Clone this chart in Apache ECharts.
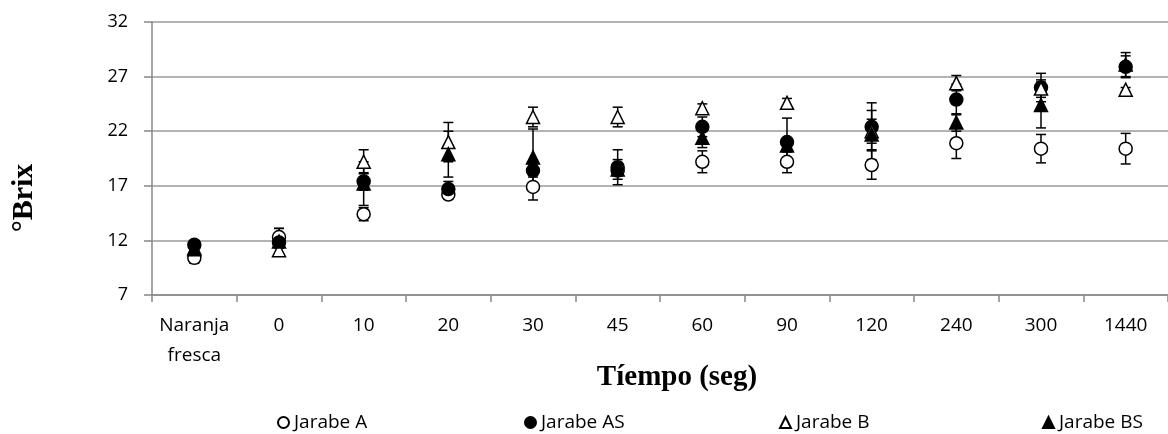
<!DOCTYPE html>
<html>
<head>
<meta charset="utf-8">
<script src="https://cdn.jsdelivr.net/npm/echarts@6/dist/echarts.min.js"></script>
<style>
  html, body { margin: 0; padding: 0; background: #fff; }
  #chart { width: 1168px; height: 434px; }
</style>
</head>
<body>
<div id="chart"></div>
<script>
// Tiempo de inmersión (categorías del eje X)
const categories = ['Naranja\nfresca', '0', '10', '20', '30', '45', '60', '90', '120', '240', '300', '1440'];
const yTicks = [7, 12, 17, 22, 27, 32];

// °Brix medio por jarabe
const jarabeA  = [10.4, 12.3, 14.4, 16.2, 16.9, 18.4, 19.2, 19.2, 18.9, 20.9, 20.4, 20.4];
const jarabeAS = [11.6, 11.8, 17.4, 16.7, 18.4, 18.7, 22.4, 21.0, 22.4, 24.9, 26.0, 27.9];
const jarabeB  = [11.2, 11.1, 19.2, 21.0, 23.3, 23.3, 24.1, 24.6, 22.0, 26.4, 25.9, 25.8];
const jarabeBS = [11.3, 11.9, 17.2, 19.9, 19.6, 18.5, 21.4, 20.7, 21.7, 22.8, 24.4, 28.1];

// Desviación estándar (barras de error)
const errA  = [0.5, 0.8, 0.6, 0.3, 1.2, 0.5, 1.0, 1.0, 1.3, 1.4, 1.3, 1.4];
const errAS = [0.4, 0.5, 0.8, 0.7, 0.6, 1.6, 0.9, 2.2, 1.5, 1.4, 1.3, 1.0];
const errB  = [0.3, 0.4, 1.1, 1.8, 0.9, 0.9, 0.4, 0.4, 2.6, 0.7, 0.8, 0.2];
const errBS = [0.3, 1.2, 2.0, 2.1, 2.6, 0.9, 0.9, 0.6, 1.4, 0.8, 2.1, 1.1];

const chart = echarts.init(document.getElementById('chart'), null, { renderer: 'canvas' });

// Barra vertical con topes horizontales en cada punto
function errorSeries(name, values, errs) {
  return {
    type: 'custom',
    name: name,
    z: 1,
    silent: true,
    data: values.map((v, i) => [i, v - errs[i], v + errs[i]]),
    renderItem: function (params, api) {
      const lo = api.coord([api.value(0), api.value(1)]);
      const hi = api.coord([api.value(0), api.value(2)]);
      const half = 5;
      const style = { stroke: '#000', lineWidth: 1.5 };
      return {
        type: 'group',
        children: [
          { type: 'line', shape: { x1: hi[0], y1: hi[1], x2: lo[0], y2: lo[1] }, style: style },
          { type: 'line', shape: { x1: hi[0] - half, y1: hi[1], x2: hi[0] + half, y2: hi[1] }, style: style },
          { type: 'line', shape: { x1: lo[0] - half, y1: lo[1], x2: lo[0] + half, y2: lo[1] }, style: style }
        ]
      };
    }
  };
}

function pointSeries(name, values, symbol, filled, size) {
  return {
    type: 'scatter',
    name: name,
    z: 2,
    symbol: symbol,
    symbolSize: size,
    data: values,
    emphasis: { disabled: true },
    itemStyle: {
      color: filled ? '#000' : '#fff',
      borderColor: '#000',
      borderWidth: 1.5,
      opacity: 1
    }
  };
}

const legendText = { fontFamily: 'Open Sans', fontSize: 19, color: '#000' };
function legendAt(name, left) {
  return {
    data: [name],
    left: left,
    top: 413,
    itemWidth: 11,
    itemHeight: 11,
    itemGap: 6,
    padding: 0,
    textStyle: legendText,
    selectedMode: false
  };
}

chart.setOption({
  animation: false,
  backgroundColor: '#fff',
  grid: { left: 152, right: 0, top: 22, bottom: 139 },
  legend: [
    legendAt('Jarabe A', 277),
    legendAt('Jarabe AS', 524),
    legendAt('Jarabe B', 779),
    legendAt('Jarabe BS', 1042)
  ],
  xAxis: {
    type: 'category',
    data: categories,
    boundaryGap: true,
    axisLine: { lineStyle: { color: '#888', width: 1.5 } },
    axisTick: { show: true, length: 7, lineStyle: { color: '#888', width: 1.5 } },
    axisLabel: {
      fontFamily: 'Open Sans', fontSize: 19, color: '#000',
      margin: 16, lineHeight: 30, interval: 0
    },
    splitLine: { show: false }
  },
  yAxis: {
    type: 'value',
    min: yTicks[0],
    max: yTicks[yTicks.length - 1],
    interval: 5,
    axisLine: { show: true, lineStyle: { color: '#888', width: 1.5 } },
    axisTick: { show: true, length: 8, lineStyle: { color: '#888', width: 1.5 } },
    axisLabel: { fontFamily: 'Open Sans', fontSize: 18, color: '#000', margin: 24 },
    splitLine: { show: true, lineStyle: { color: '#9a9a9a', width: 1.5 } }
  },
  graphic: [
    {
      type: 'text',
      x: 677,
      y: 378,
      style: {
        text: 'Tíempo (seg)',
        font: 'bold 29px "Liberation Serif"',
        fill: '#000',
        align: 'center',
        verticalAlign: 'middle'
      }
    },
    {
      type: 'text',
      x: 24,
      y: 198,
      rotation: Math.PI / 2,
      style: {
        text: '°Brix',
        font: 'bold 30px "Liberation Serif"',
        fill: '#000',
        align: 'center',
        verticalAlign: 'middle'
      }
    }
  ],
  series: [
    errorSeries('errA', jarabeA, errA),
    errorSeries('errAS', jarabeAS, errAS),
    errorSeries('errB', jarabeB, errB),
    errorSeries('errBS', jarabeBS, errBS),
    pointSeries('Jarabe A', jarabeA, 'circle', false, 13),
    pointSeries('Jarabe AS', jarabeAS, 'circle', true, 13),
    pointSeries('Jarabe B', jarabeB, 'triangle', false, 13),
    pointSeries('Jarabe BS', jarabeBS, 'triangle', true, 13)
  ]
});
</script>
</body>
</html>
